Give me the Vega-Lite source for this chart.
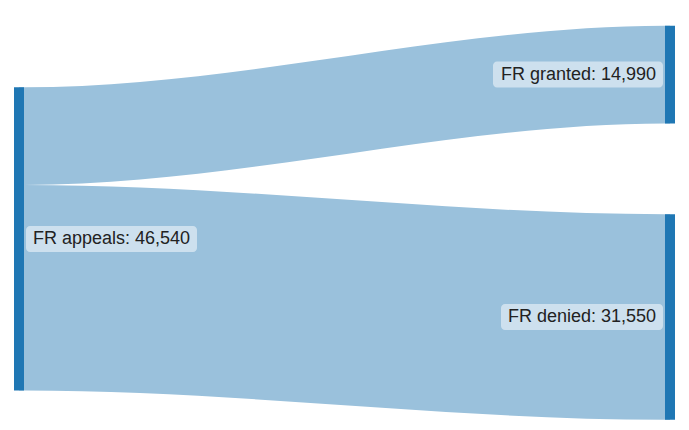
{
  "$schema": "https://vega.github.io/schema/vega-lite/v6.json",
  "width": 689,
  "height": 430,
  "padding": 0,
  "autosize": {"type": "fit", "contains": "padding"},
  "background": "white",
  "config": {"view": {"stroke": null}},
  "datasets": {
    "nodes": [
      {"node": "FR appeals", "stage": 0, "start": 13400, "end": 59940, "label": "FR appeals: 46,540"},
      {"node": "FR granted", "stage": 1, "start": 3950, "end": 18940, "label": "FR granted: 14,990"},
      {"node": "FR denied", "stage": 1, "start": 32890, "end": 64440, "label": "FR denied: 31,550"}
    ],
    "flows": [
      {"flow": "FR appeals → FR granted", "x": 0, "top": 13400, "bottom": 28390},
      {"flow": "FR appeals → FR granted", "x": 0.0077, "top": 13400, "bottom": 28390},
      {"flow": "FR appeals → FR granted", "x": 0.9923, "top": 3950, "bottom": 18940},
      {"flow": "FR appeals → FR granted", "x": 1, "top": 3950, "bottom": 18940},
      {"flow": "FR appeals → FR denied", "x": 0, "top": 28390, "bottom": 59940},
      {"flow": "FR appeals → FR denied", "x": 0.0077, "top": 28390, "bottom": 59940},
      {"flow": "FR appeals → FR denied", "x": 0.9923, "top": 32890, "bottom": 64440},
      {"flow": "FR appeals → FR denied", "x": 1, "top": 32890, "bottom": 64440}
    ]
  },
  "layer": [
    {
      "data": {"name": "flows"},
      "mark": {"type": "area", "interpolate": "monotone", "color": "#9ac1dc", "opacity": 1},
      "encoding": {
        "x": {"field": "x", "type": "quantitative", "scale": {"domain": [-0.02919, 1.02919], "nice": false, "zero": false}, "axis": null},
        "y": {"field": "top", "type": "quantitative", "scale": {"domain": [0, 66000], "reverse": true, "nice": false}, "axis": null},
        "y2": {"field": "bottom"},
        "detail": {"field": "flow"}
      }
    },
    {
      "data": {"name": "nodes"},
      "mark": {"type": "rule", "strokeWidth": 10, "color": "#1f77b4", "strokeCap": "butt"},
      "encoding": {
        "x": {"field": "stage", "type": "quantitative", "scale": {"domain": [-0.02919, 1.02919], "nice": false, "zero": false}, "axis": null},
        "y": {"field": "start", "type": "quantitative", "scale": {"domain": [0, 66000], "reverse": true, "nice": false}, "axis": null},
        "y2": {"field": "end"}
      }
    },
    {
      "data": {"name": "nodes"},
      "transform": [
        {"filter": "datum.node == 'FR appeals'"},
        {"fold": ["start", "end"], "as": ["edge", "pos"]}
      ],
      "mark": {"type": "rect", "color": "white", "opacity": 0.5, "cornerRadius": 4, "xOffset": 7, "x2Offset": 178, "yOffset": -13, "y2Offset": 13},
      "encoding": {
        "x": {"field": "stage", "type": "quantitative", "scale": {"domain": [-0.02919, 1.02919], "nice": false, "zero": false}, "axis": null},
        "x2": {"field": "stage"},
        "y": {"field": "pos", "aggregate": "mean", "type": "quantitative", "scale": {"domain": [0, 66000], "reverse": true, "nice": false}, "axis": null},
        "y2": {"field": "pos", "aggregate": "mean"}
      }
    },
    {
      "data": {"name": "nodes"},
      "transform": [
        {"filter": "datum.node == 'FR granted'"},
        {"fold": ["start", "end"], "as": ["edge", "pos"]}
      ],
      "mark": {"type": "rect", "color": "white", "opacity": 0.5, "cornerRadius": 4, "xOffset": -177, "x2Offset": -7, "yOffset": -13, "y2Offset": 13},
      "encoding": {
        "x": {"field": "stage", "type": "quantitative", "scale": {"domain": [-0.02919, 1.02919], "nice": false, "zero": false}, "axis": null},
        "x2": {"field": "stage"},
        "y": {"field": "pos", "aggregate": "mean", "type": "quantitative", "scale": {"domain": [0, 66000], "reverse": true, "nice": false}, "axis": null},
        "y2": {"field": "pos", "aggregate": "mean"}
      }
    },
    {
      "data": {"name": "nodes"},
      "transform": [
        {"filter": "datum.node == 'FR denied'"},
        {"fold": ["start", "end"], "as": ["edge", "pos"]}
      ],
      "mark": {"type": "rect", "color": "white", "opacity": 0.5, "cornerRadius": 4, "xOffset": -169, "x2Offset": -7, "yOffset": -13, "y2Offset": 13},
      "encoding": {
        "x": {"field": "stage", "type": "quantitative", "scale": {"domain": [-0.02919, 1.02919], "nice": false, "zero": false}, "axis": null},
        "x2": {"field": "stage"},
        "y": {"field": "pos", "aggregate": "mean", "type": "quantitative", "scale": {"domain": [0, 66000], "reverse": true, "nice": false}, "axis": null},
        "y2": {"field": "pos", "aggregate": "mean"}
      }
    },
    {
      "data": {"name": "nodes"},
      "transform": [
        {"filter": "datum.stage == 0"},
        {"fold": ["start", "end"], "as": ["edge", "pos"]}
      ],
      "mark": {"type": "text", "align": "left", "baseline": "middle", "xOffset": 14, "font": "Liberation Sans", "fontSize": 18, "color": "#222222"},
      "encoding": {
        "x": {"field": "stage", "type": "quantitative", "scale": {"domain": [-0.02919, 1.02919], "nice": false, "zero": false}, "axis": null},
        "y": {"field": "pos", "aggregate": "mean", "type": "quantitative", "scale": {"domain": [0, 66000], "reverse": true, "nice": false}, "axis": null},
        "text": {"field": "label"}
      }
    },
    {
      "data": {"name": "nodes"},
      "transform": [
        {"filter": "datum.stage == 1"},
        {"fold": ["start", "end"], "as": ["edge", "pos"]}
      ],
      "mark": {"type": "text", "align": "right", "baseline": "middle", "xOffset": -14, "font": "Liberation Sans", "fontSize": 18, "color": "#222222"},
      "encoding": {
        "x": {"field": "stage", "type": "quantitative", "scale": {"domain": [-0.02919, 1.02919], "nice": false, "zero": false}, "axis": null},
        "y": {"field": "pos", "aggregate": "mean", "type": "quantitative", "scale": {"domain": [0, 66000], "reverse": true, "nice": false}, "axis": null},
        "text": {"field": "label"}
      }
    }
  ]
}
